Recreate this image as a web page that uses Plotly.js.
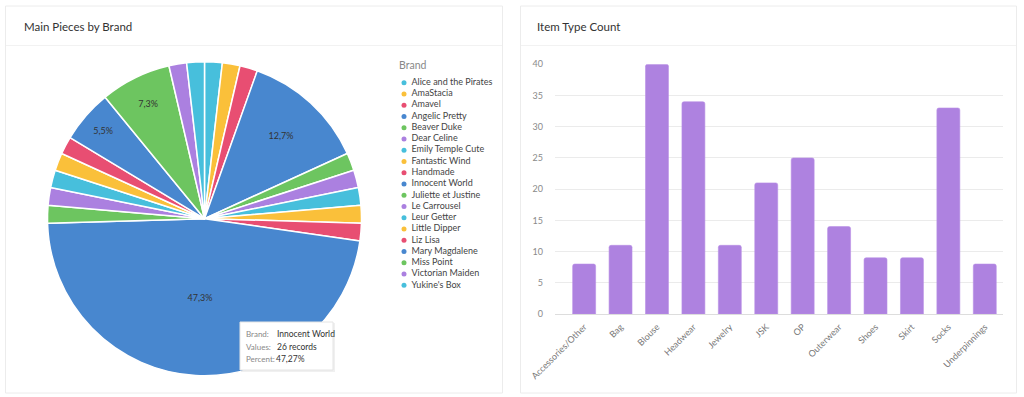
<!DOCTYPE html>
<html>
<head>
<meta charset="utf-8">
<script src="https://cdn.plot.ly/plotly-3.0.1.min.js"></script>
<style>
html,body{margin:0;padding:0;background:#ffffff;}
#chart{width:1024px;height:397px;}
</style>
</head>
<body>
<div id="chart"></div>
<script>
// ---- data ----
const brands = ["Alice and the Pirates","AmaStacia","Amavel","Angelic Pretty","Beaver Duke","Dear Celine","Emily Temple Cute","Fantastic Wind","Handmade","Innocent World","Juliette et Justine","Le Carrousel","Leur Getter","Little Dipper","Liz Lisa","Mary Magdalene","Miss Point","Victorian Maiden","Yukine's Box"];
const brandCounts = [1,1,1,7,1,1,1,1,1,26,1,1,1,1,1,3,4,1,1];
const itemTypes = ["Accessories/Other","Bag","Blouse","Headwear","Jewelry","JSK","OP","Outerwear","Shoes","Skirt","Socks","Underpinnings"];
const itemCounts = [8,11,40,34,11,21,25,14,9,9,33,8];
const palette = ["#47bfdc","#fac03a","#e84e72","#4887cf","#6dc560","#ab80e0"];

// ---- helpers ----
const W = 1024, H = 397;
const px = x => x / W;
const py = y => 1 - y / H;
const font = "Lato, 'Noto Sans', sans-serif";

const colors = brands.map((b, i) => palette[i % palette.length]);
const total = brandCounts.reduce((a, b) => a + b, 0);
const textT = brandCounts.map(v => v / total >= 0.05 ? '%{percent:.1%}' : '');

// pie
const pie = {
  type: 'pie',
  labels: brands,
  values: brandCounts,
  sort: false,
  direction: 'clockwise',
  rotation: 0,
  marker: {colors: colors, line: {color: '#ffffff', width: 1.5}},
  texttemplate: textT,
  textposition: 'inside',
  insidetextorientation: 'horizontal',
  textfont: {family: font, size: 9, color: '#333333'},
  hoverinfo: 'skip',
  showlegend: false,
  domain: {x: [px(47.5), px(361.5)], y: [py(375.7), py(61.7)]}
};

// custom legend (circle dots + labels) on hidden axes
const legendDots = {
  type: 'scatter',
  mode: 'markers',
  x: brands.map(() => 6),
  y: brands.map((b, i) => i),
  marker: {color: colors, size: 5},
  xaxis: 'x3', yaxis: 'y3',
  hoverinfo: 'skip',
  showlegend: false,
  cliponaxis: false
};
const legendText = {
  type: 'scatter',
  mode: 'text',
  x: brands.map(() => 13.5),
  y: brands.map((b, i) => i),
  text: brands,
  textposition: 'middle right',
  textfont: {family: font, size: 9, color: '#444444'},
  xaxis: 'x3', yaxis: 'y3',
  hoverinfo: 'skip',
  showlegend: false,
  cliponaxis: false
};

// bars
const bar = {
  type: 'bar',
  x: itemTypes,
  y: itemCounts,
  width: 0.63,
  marker: {color: '#ae82e0', line: {color: '#b98fe6', width: 0.6}, cornerradius: 2},
  xaxis: 'x', yaxis: 'y',
  hoverinfo: 'skip',
  showlegend: false
};

// tooltip content from data
let maxI = 0;
brandCounts.forEach((v, i) => { if (v > brandCounts[maxI]) maxI = i; });
const pct = (brandCounts[maxI] / total * 100).toFixed(2).replace('.', ',');

const layout = {
  width: W, height: H,
  margin: {l: 0, r: 0, t: 0, b: 0},
  paper_bgcolor: '#ffffff',
  plot_bgcolor: 'rgba(0,0,0,0)',
  separators: ',.',
  font: {family: font},
  showlegend: false,
  xaxis: {
    domain: [px(555), px(1003)],
    range: [-0.8, 11.5],
    type: 'category',
    tickangle: -45,
    tickfont: {family: font, size: 9, color: '#777777'},
    showgrid: false, zeroline: false, showline: false,
    ticks: '', ticklabelstandoff: 5,
    anchor: 'y'
  },
  yaxis: {
    domain: [py(314), py(64.3)],
    range: [0, 40],
    dtick: 5,
    tickfont: {family: font, size: 9, color: '#8a8a8a'},
    gridcolor: '#ebebeb', gridwidth: 1,
    zeroline: true, zerolinecolor: '#dddddd', zerolinewidth: 1,
    showline: false, ticks: '', ticklabelstandoff: 11,
    anchor: 'x'
  },
  xaxis3: {domain: [px(398), px(498)], range: [0, 100], visible: false, fixedrange: true, anchor: 'y3'},
  yaxis3: {domain: [py(291), py(77)], range: [18.5, -0.5], visible: false, fixedrange: true, anchor: 'x3'},
  shapes: [
    // cards
    {type: 'rect', xref: 'paper', yref: 'paper', x0: px(5.5), x1: px(502.5), y0: py(393), y1: py(6), line: {color: '#ececec', width: 1}, fillcolor: 'rgba(0,0,0,0)', layer: 'below'},
    {type: 'rect', xref: 'paper', yref: 'paper', x0: px(520.5), x1: px(1016.5), y0: py(393), y1: py(6), line: {color: '#ececec', width: 1}, fillcolor: 'rgba(0,0,0,0)', layer: 'below'},
    // header separators
    {type: 'line', xref: 'paper', yref: 'paper', x0: px(6), x1: px(502), y0: py(45.5), y1: py(45.5), line: {color: '#f2f2f2', width: 1}},
    {type: 'line', xref: 'paper', yref: 'paper', x0: px(521), x1: px(1016), y0: py(45.5), y1: py(45.5), line: {color: '#f2f2f2', width: 1}},
    // tooltip shadow + box
    {type: 'rect', xref: 'paper', yref: 'paper', x0: px(241), x1: px(335), y0: py(372), y1: py(323), line: {width: 0}, fillcolor: 'rgba(0,0,0,0.06)', layer: 'above'},
    {type: 'rect', xref: 'paper', yref: 'paper', x0: px(240), x1: px(333), y0: py(370), y1: py(322), line: {color: '#e4e4e4', width: 1}, fillcolor: '#ffffff', layer: 'above'}
  ],
  annotations: [
    {xref: 'paper', yref: 'paper', x: px(22), y: py(26), xanchor: 'left', yanchor: 'middle', showarrow: false,
     text: 'Main Pieces by Brand', font: {family: font, size: 11.5, color: '#333333'}},
    {xref: 'paper', yref: 'paper', x: px(535), y: py(26), xanchor: 'left', yanchor: 'middle', showarrow: false,
     text: 'Item Type Count', font: {family: font, size: 11.5, color: '#333333'}},
    {xref: 'paper', yref: 'paper', x: px(397), y: py(65), xanchor: 'left', yanchor: 'middle', showarrow: false,
     text: 'Brand', font: {family: font, size: 10.5, color: '#888888'}},
    // tooltip
    {xref: 'paper', yref: 'paper', x: px(244), y: py(334), xanchor: 'left', yanchor: 'middle', showarrow: false,
     text: 'Brand:', font: {family: font, size: 8, color: '#888888'}},
    {xref: 'paper', yref: 'paper', x: px(244), y: py(346.5), xanchor: 'left', yanchor: 'middle', showarrow: false,
     text: 'Values:', font: {family: font, size: 8, color: '#888888'}},
    {xref: 'paper', yref: 'paper', x: px(244), y: py(359), xanchor: 'left', yanchor: 'middle', showarrow: false,
     text: 'Percent:', font: {family: font, size: 8, color: '#888888'}},
    {xref: 'paper', yref: 'paper', x: px(275), y: py(334), xanchor: 'left', yanchor: 'middle', showarrow: false,
     text: brands[maxI], font: {family: font, size: 8.5, color: '#333333'}},
    {xref: 'paper', yref: 'paper', x: px(275), y: py(346.5), xanchor: 'left', yanchor: 'middle', showarrow: false,
     text: brandCounts[maxI] + ' records', font: {family: font, size: 8.5, color: '#333333'}},
    {xref: 'paper', yref: 'paper', x: px(274), y: py(359), xanchor: 'left', yanchor: 'middle', showarrow: false,
     text: pct + '%', font: {family: font, size: 8.5, color: '#333333'}}
  ]
};

Plotly.newPlot('chart', [bar, pie, legendDots, legendText], layout, {displayModeBar: false, staticPlot: true});
</script>
</body>
</html>
